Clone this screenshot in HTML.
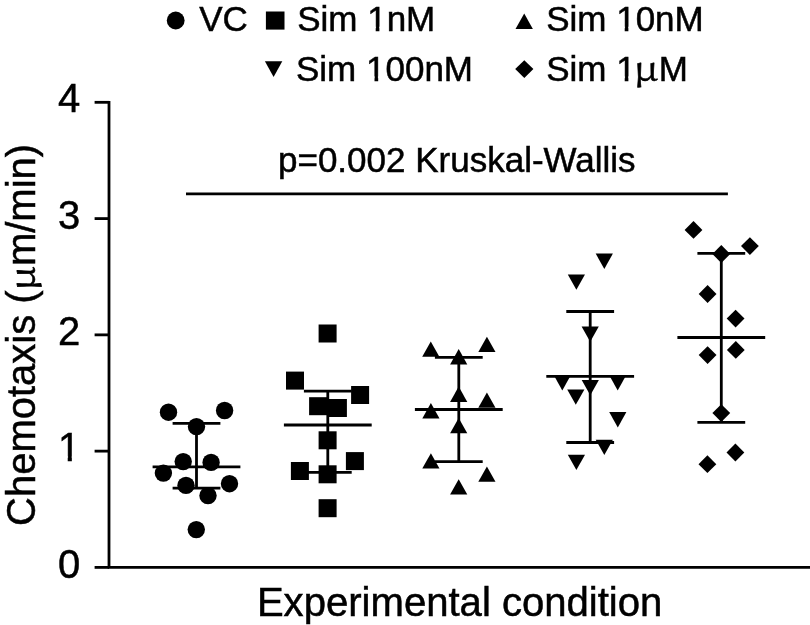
<!DOCTYPE html>
<html lang="en"><head><meta charset="utf-8"><title>Chemotaxis by experimental condition</title>
<style>html,body{margin:0;padding:0;background:#fff}svg{display:block}text{font-family:"Liberation Sans",sans-serif;fill:#000;stroke:#000;stroke-width:.5px;stroke-linejoin:miter}.mu{font-family:"Noto Serif CJK SC","Liberation Serif",serif;stroke-width:.6px}.l{stroke:#000;stroke-width:2.8;fill:none;stroke-linecap:butt}.m{fill:#000;stroke:none}</style></head><body>
<svg width="810" height="625" viewBox="0 0 810 625">
<rect width="810" height="625" fill="#fff"/>
<g class="l">
<path d="M109 100.92 V567.4 H810"/>
<path d="M94.6 567.4 H109"/>
<path d="M94.6 451.13 H109"/>
<path d="M94.6 334.86 H109"/>
<path d="M94.6 218.59 H109"/>
<path d="M94.6 102.32 H109"/>
<path d="M186 193.9 H727.9"/>
<path d="M152.6 466.9 H240.4 M172.6 423.3 H220.4 M172.6 488.2 H220.4 M196.5 423.3 V488.2"/>
<path d="M283.9 425 H371.7 M303.9 391.1 H351.7 M303.9 472.3 H351.7 M327.8 391.1 V472.3"/>
<path d="M414.9 409.5 H502.7 M434.9 357.3 H482.7 M434.9 461.6 H482.7 M458.8 357.3 V461.6"/>
<path d="M546.3 376.3 H634.1 M566.3 311.5 H614.1 M566.3 442.5 H614.1 M590.2 311.5 V442.5"/>
<path d="M677.4 337.5 H765.2 M697.4 253.3 H745.2 M697.4 422.3 H745.2 M721.3 253.3 V422.3"/>
</g>
<g class="m">
<circle cx="168.5" cy="412.2" r="8.7"/>
<circle cx="224.6" cy="410.5" r="8.7"/>
<circle cx="196.5" cy="426.6" r="8.7"/>
<circle cx="183.2" cy="461.6" r="8.7"/>
<circle cx="211.1" cy="462.4" r="8.7"/>
<circle cx="163.4" cy="473.1" r="8.7"/>
<circle cx="186" cy="485.4" r="8.7"/>
<circle cx="229.5" cy="483.7" r="8.7"/>
<circle cx="208" cy="495.6" r="8.7"/>
<circle cx="196.3" cy="529.6" r="8.7"/>
<rect x="318.6" y="324.5" width="18" height="18"/>
<rect x="286" y="371.6" width="18" height="18"/>
<rect x="351.1" y="386" width="18" height="18"/>
<rect x="309.1" y="397.2" width="18" height="18"/>
<rect x="328.9" y="399" width="18" height="18"/>
<rect x="318.6" y="431.3" width="18" height="18"/>
<rect x="345.9" y="452.1" width="18" height="18"/>
<rect x="290.9" y="462" width="18" height="18"/>
<rect x="318.6" y="465.3" width="18" height="18"/>
<rect x="318.6" y="499.2" width="18" height="18"/>
<path d="M430.8 341.4 L439.4 356.7 H422.2 Z"/>
<path d="M486.9 336.7 L495.5 352 H478.3 Z"/>
<path d="M458.7 349.1 L467.3 364.4 H450.1 Z"/>
<path d="M458.7 386.6 L467.3 401.9 H450.1 Z"/>
<path d="M486.9 392.5 L495.5 407.8 H478.3 Z"/>
<path d="M430.9 403.1 L439.5 418.4 H422.3 Z"/>
<path d="M458.7 418 L467.3 433.3 H450.1 Z"/>
<path d="M430.9 453.2 L439.5 468.5 H422.3 Z"/>
<path d="M486.9 466.4 L495.5 481.7 H478.3 Z"/>
<path d="M458.7 479.2 L467.3 494.5 H450.1 Z"/>
<path d="M595.7 253.6 H612.9 L604.3 268.9 Z"/>
<path d="M567.8 274.4 H585 L576.4 289.7 Z"/>
<path d="M581.6 326.4 H598.8 L590.2 341.7 Z"/>
<path d="M553.7 375.1 H570.9 L562.3 390.4 Z"/>
<path d="M581.7 379.9 H598.9 L590.3 395.2 Z"/>
<path d="M609.1 375.1 H626.3 L617.7 390.4 Z"/>
<path d="M567.2 389.4 H584.4 L575.8 404.7 Z"/>
<path d="M609.2 412.1 H626.4 L617.8 427.4 Z"/>
<path d="M595.7 439.8 H612.9 L604.3 455.1 Z"/>
<path d="M567.8 454.8 H585 L576.4 470.1 Z"/>
<path d="M693.5 221 L702.4 229.9 L693.5 238.8 L684.6 229.9 Z"/>
<path d="M749.9 237.2 L758.8 246.1 L749.9 255 L741 246.1 Z"/>
<path d="M721.3 245.1 L730.2 254 L721.3 262.9 L712.4 254 Z"/>
<path d="M707.6 285.1 L716.5 294 L707.6 302.9 L698.7 294 Z"/>
<path d="M735.6 309.7 L744.5 318.6 L735.6 327.5 L726.7 318.6 Z"/>
<path d="M735.8 341 L744.7 349.9 L735.8 358.8 L726.9 349.9 Z"/>
<path d="M707.6 346.2 L716.5 355.1 L707.6 364 L698.7 355.1 Z"/>
<path d="M721.3 404.2 L730.2 413.1 L721.3 422 L712.4 413.1 Z"/>
<path d="M735.4 443.6 L744.3 452.5 L735.4 461.4 L726.5 452.5 Z"/>
<path d="M707.4 455.3 L716.3 464.2 L707.4 473.1 L698.5 464.2 Z"/>
<circle cx="175.7" cy="20.5" r="8.9"/>
<rect x="265.9" y="11.5" width="18.6" height="18.1"/>
<path d="M524.2 13.4 L532.9 29 H515.5 Z"/>
<path d="M264.9 61.3 H282.3 L273.6 77 Z"/>
<path d="M524.3 60.2 L533.4 69.1 L524.3 78 L515.2 69.1 Z"/>
</g>
<text x="199.2" y="31.3" font-size="35">VC</text>
<text x="297.2" y="31.3" font-size="35">Sim 1nM</text>
<text x="546.2" y="31.3" font-size="35">Sim 10nM</text>
<text x="296" y="80.9" font-size="35">Sim 100nM</text>
<text x="546.2" y="80.9" font-size="35">Sim 1<tspan class="mu" font-size="34" x="633.8" textLength="24.6" lengthAdjust="spacingAndGlyphs">µ</tspan><tspan x="658.8">M</tspan></text>
<text x="278" y="171.6" font-size="35">p=0.002 Kruskal-Wallis</text>
<text x="256.9" y="615.9" font-size="40.1">Experimental condition</text>
<text transform="translate(35.3 526) rotate(-90)" font-size="40">Chemotaxis (<tspan class="mu" font-size="34" textLength="24.3" lengthAdjust="spacingAndGlyphs">µ</tspan>m/min)</text>
<g font-size="40" text-anchor="end">
<text x="80.2" y="577.5">0</text>
<text x="80.2" y="461.23">1</text>
<text x="80.2" y="344.96">2</text>
<text x="80.2" y="228.69">3</text>
<text x="80.2" y="112.02">4</text>
</g>
<g fill="#fff">
<rect x="368.6" y="26.69" width="7.1" height="5.81"/>
<rect x="379.39" y="26.69" width="7" height="5.81"/>
<rect x="617.6" y="26.69" width="7.1" height="5.81"/>
<rect x="628.39" y="26.69" width="7" height="5.81"/>
<rect x="367.4" y="76.29" width="7.1" height="5.81"/>
<rect x="378.19" y="76.29" width="7" height="5.81"/>
<rect x="617.6" y="76.29" width="7.1" height="5.81"/>
<rect x="628.39" y="76.29" width="7" height="5.81"/>
<rect x="59.55" y="456.24" width="8.16" height="6.19"/>
<rect x="71.84" y="456.24" width="8" height="6.19"/>
</g>
</svg></body></html>
